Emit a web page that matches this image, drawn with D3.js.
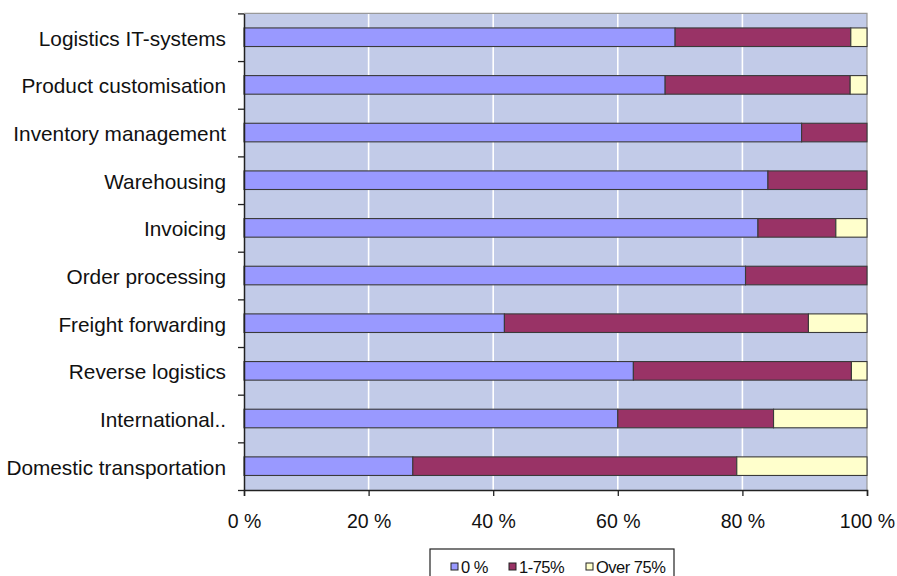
<!DOCTYPE html>
<html>
<head>
<meta charset="utf-8">
<script src="https://cdn.jsdelivr.net/npm/d3@7"></script>
<style>
  html, body { margin: 0; padding: 0; background: #fff; }
  svg { display: block; font-family: "Liberation Sans", Arial, sans-serif; }
</style>
</head>
<body>
<svg id="chart" width="897" height="576"></svg>
<script>
// Share of respondents per outsourcing level, by logistics activity
const categories = [
  "Logistics IT-systems",
  "Product customisation",
  "Inventory management",
  "Warehousing",
  "Invoicing",
  "Order processing",
  "Freight forwarding",
  "Reverse logistics",
  "International..",
  "Domestic transportation"
];
const seriesNames = ["0 %", "1-75%", "Over 75%"];
const zeroPct = [69.2, 67.6, 89.5, 84.1, 82.5, 80.5, 41.8, 62.5, 60.0, 27.1];
const midPct  = [28.2, 29.7, 10.5, 15.9, 12.5, 19.5, 48.8, 35.0, 25.0, 52.0];
const overPct = [2.6, 2.7, 0, 0, 5.0, 0, 9.4, 2.5, 15.0, 20.9];
const tickValues = [0, 20, 40, 60, 80, 100];

const colors = ["#9999FF", "#993366", "#FFFFCC"];

const rows = categories.map((c, i) => ({
  cat: c,
  "0 %": zeroPct[i],
  "1-75%": midPct[i],
  "Over 75%": overPct[i]
}));

const svg = d3.select("#chart");
const plot = { left: 244, right: 867, top: 13.4, bottom: 490 };

const x = d3.scaleLinear().domain([0, 100]).range([plot.left, plot.right]);
const y = d3.scaleBand().domain(categories)
  .range([plot.top, plot.bottom])
  .paddingInner(0.61).paddingOuter(0.305);
const yEdge = d3.scaleLinear().domain([0, categories.length]).range([plot.top, plot.bottom]);

// plot background
svg.append("rect")
  .attr("x", plot.left).attr("y", plot.top)
  .attr("width", plot.right - plot.left).attr("height", plot.bottom - plot.top)
  .attr("fill", "#C2CBE8");

// vertical gridlines
svg.append("g").selectAll("line")
  .data(tickValues.filter(v => v > 0 && v < 100))
  .join("line")
  .attr("x1", d => x(d)).attr("x2", d => x(d))
  .attr("y1", plot.top).attr("y2", plot.bottom)
  .attr("stroke", "#fff").attr("stroke-width", 1.6);

// top and right border
svg.append("path")
  .attr("d", `M${plot.left},${plot.top}H${plot.right}V${plot.bottom}`)
  .attr("fill", "none").attr("stroke", "#999").attr("stroke-width", 1.2);

// stacked bars
const stack = d3.stack().keys(seriesNames)(rows);
svg.append("g").selectAll("g")
  .data(stack)
  .join("g")
  .attr("fill", (d, i) => colors[i])
  .selectAll("rect")
  .data(d => d.filter(s => s[1] - s[0] > 0))
  .join("rect")
  .attr("x", d => x(d[0]))
  .attr("y", d => y(d.data.cat))
  .attr("width", d => x(d[1]) - x(d[0]))
  .attr("height", y.bandwidth())
  .attr("stroke", "#3a3a3a")
  .attr("stroke-width", 1.1);

// bottom axis
const xAxis = svg.append("g")
  .attr("transform", `translate(0,${plot.bottom})`)
  .call(d3.axisBottom(x).tickValues(tickValues).tickSize(6).tickPadding(18)
    .tickFormat(d => d + " %"));
xAxis.select(".domain").attr("stroke", "#222").attr("stroke-width", 1.5);
xAxis.selectAll(".tick line").attr("stroke", "#222").attr("stroke-width", 1.3);
xAxis.selectAll(".tick text")
  .attr("font-size", 19.5).attr("fill", "#111")
  .attr("font-family", "'Liberation Sans', Arial, sans-serif");

// left axis with ticks between categories
const yAxis = svg.append("g")
  .attr("transform", `translate(${plot.left},0)`)
  .call(d3.axisLeft(yEdge).tickValues(d3.range(categories.length + 1))
    .tickSize(6).tickSizeOuter(0).tickFormat(""));
yAxis.select(".domain").attr("stroke", "#222").attr("stroke-width", 1.5);
yAxis.selectAll(".tick line").attr("stroke", "#222").attr("stroke-width", 1.3);

// category labels
svg.append("g").selectAll("text")
  .data(categories)
  .join("text")
  .attr("x", 226)
  .attr("y", d => y(d) + y.bandwidth() / 2)
  .attr("dy", "0.41em")
  .attr("text-anchor", "end")
  .attr("font-size", 20.8)
  .attr("fill", "#111")
  .text(d => d);

// legend
const legend = svg.append("g");
legend.append("rect")
  .attr("x", 430).attr("y", 549).attr("width", 244).attr("height", 40)
  .attr("fill", "#fff").attr("stroke", "#222").attr("stroke-width", 1.2);
const legendX = [451, 509, 586];
const items = legend.selectAll("g.item")
  .data(seriesNames)
  .join("g")
  .attr("class", "item")
  .attr("transform", (d, i) => `translate(${legendX[i]},0)`);
items.append("rect")
  .attr("x", 0).attr("y", 563).attr("width", 7).attr("height", 7)
  .attr("fill", (d, i) => colors[i])
  .attr("stroke", "#222").attr("stroke-width", 1);
items.append("text")
  .attr("x", 10).attr("y", 572.7)
  .attr("font-size", 16.5).attr("fill", "#111")
  .attr("letter-spacing", -0.5)
  .text(d => d);
</script>
</body>
</html>
